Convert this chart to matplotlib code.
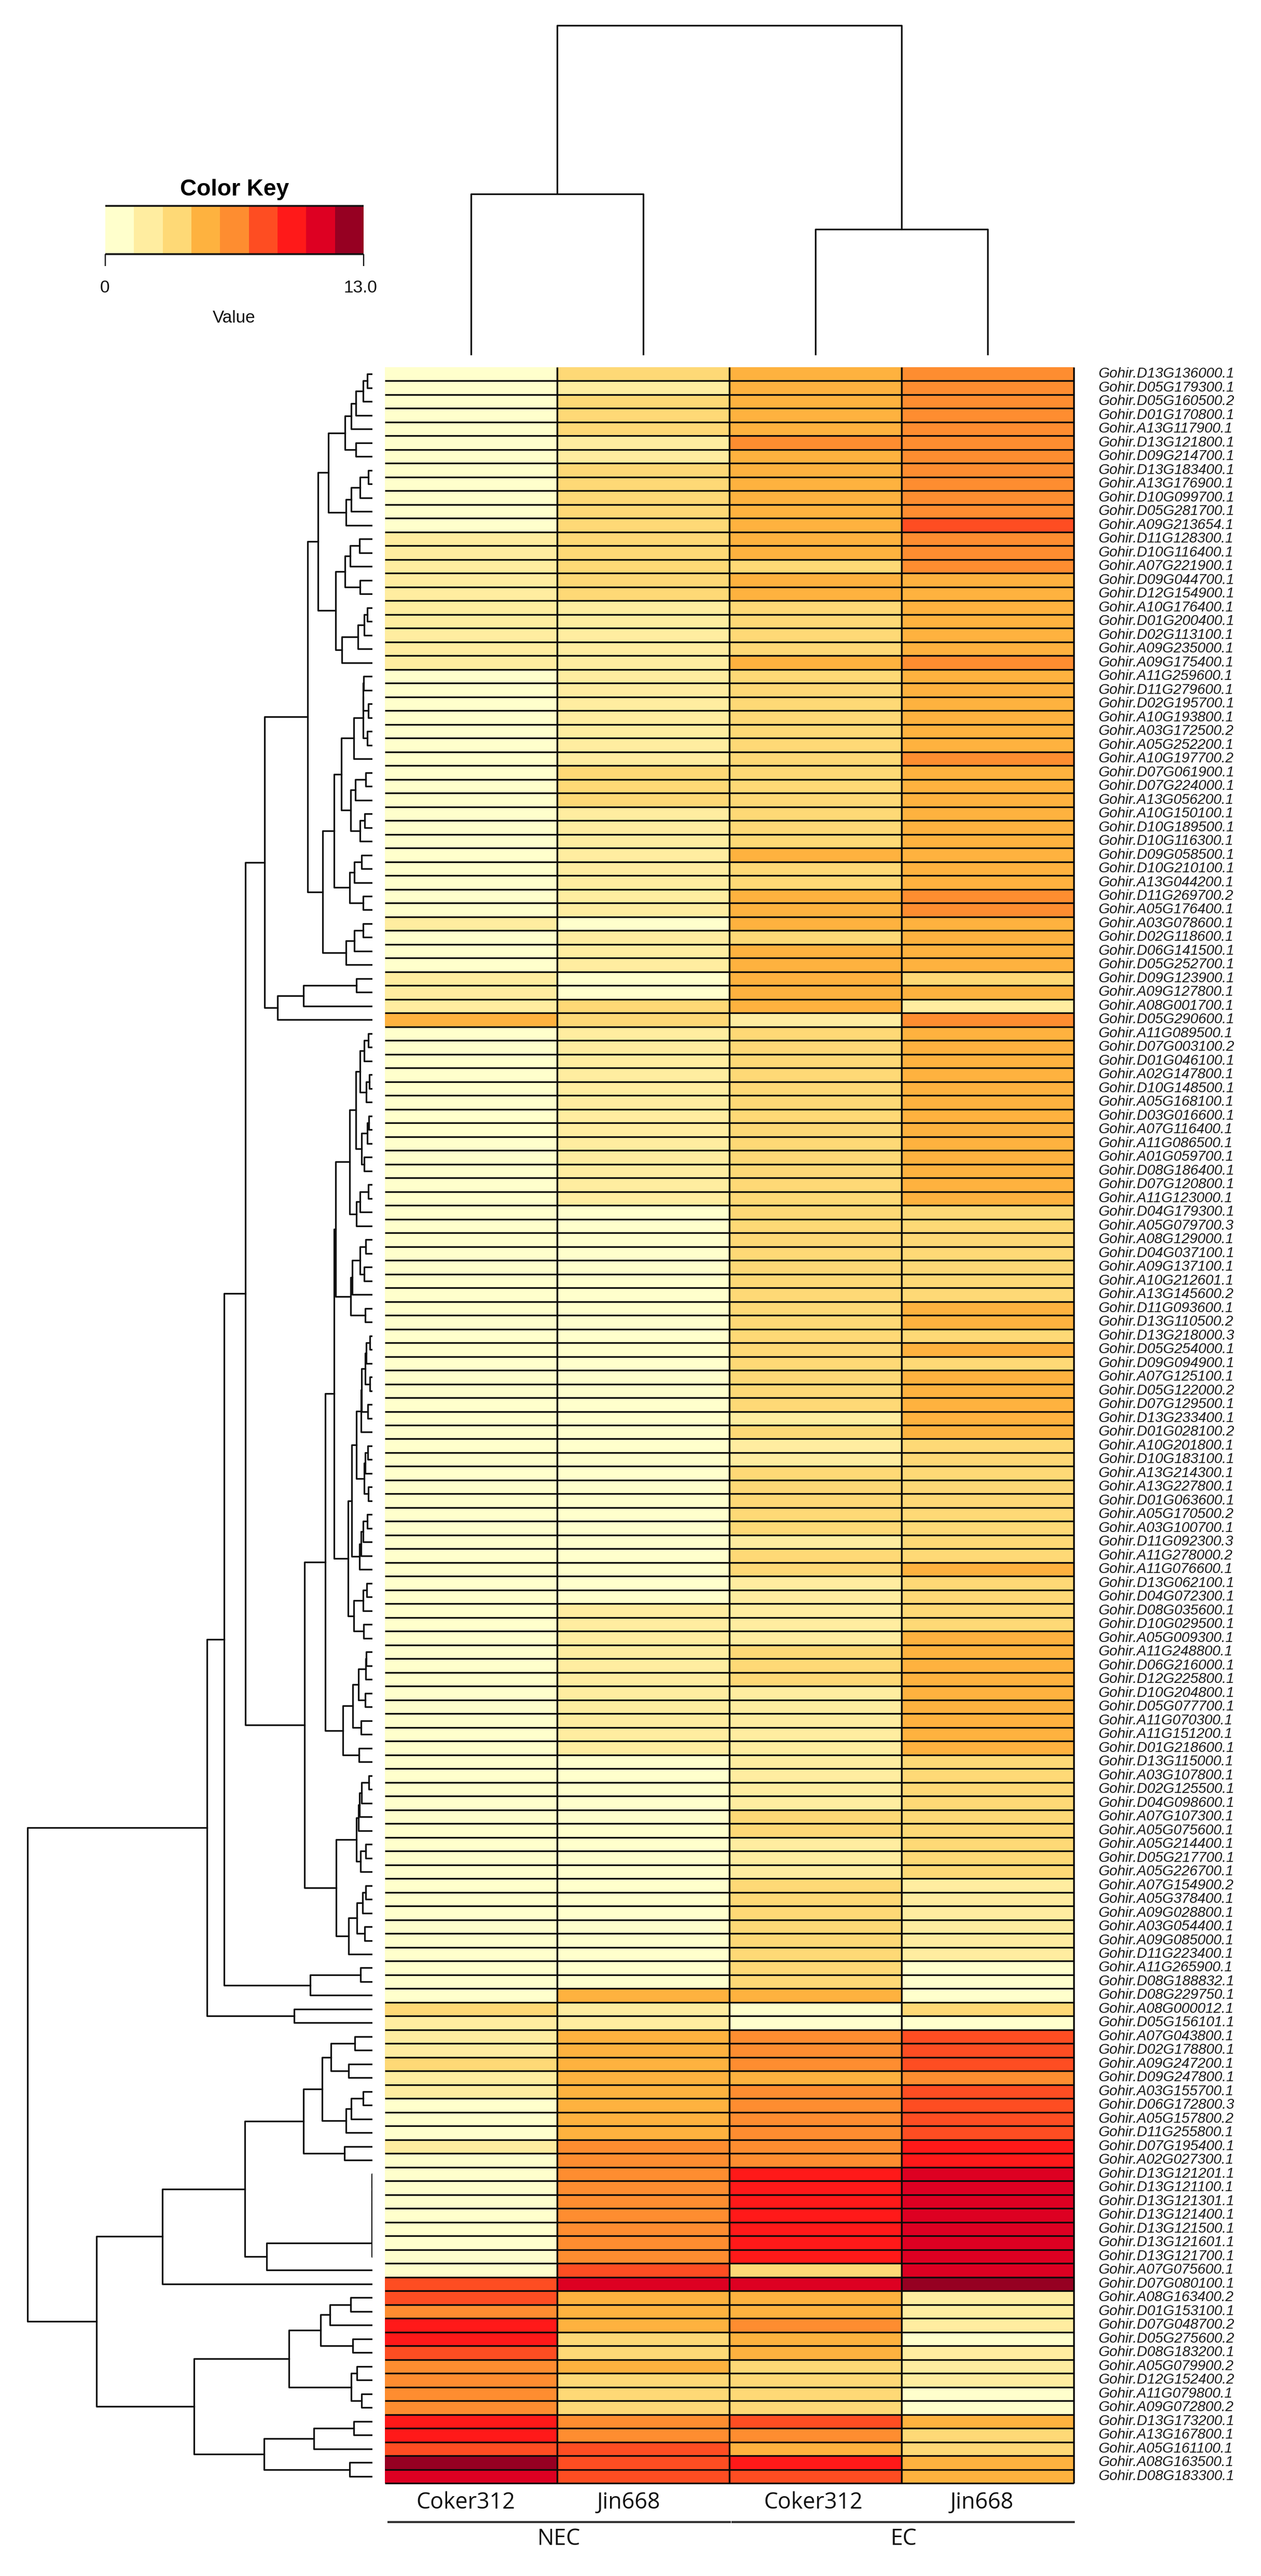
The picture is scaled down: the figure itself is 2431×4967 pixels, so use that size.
import numpy as np
import matplotlib
matplotlib.use("Agg")
import matplotlib.pyplot as plt
from matplotlib.collections import LineCollection
from matplotlib.colors import ListedColormap, BoundaryNorm

plt.rcParams['font.family'] = ['Liberation Sans', 'DejaVu Sans']

# ---------- data ----------
gene_ids = """D13G136000.1 D05G179300.1 D05G160500.2 D01G170800.1 A13G117900.1 D13G121800.1 D09G214700.1 D13G183400.1
A13G176900.1 D10G099700.1 D05G281700.1 A09G213654.1 D11G128300.1 D10G116400.1 A07G221900.1 D09G044700.1
D12G154900.1 A10G176400.1 D01G200400.1 D02G113100.1 A09G235000.1 A09G175400.1 A11G259600.1 D11G279600.1
D02G195700.1 A10G193800.1 A03G172500.2 A05G252200.1 A10G197700.2 D07G061900.1 D07G224000.1 A13G056200.1
A10G150100.1 D10G189500.1 D10G116300.1 D09G058500.1 D10G210100.1 A13G044200.1 D11G269700.2 A05G176400.1
A03G078600.1 D02G118600.1 D06G141500.1 D05G252700.1 D09G123900.1 A09G127800.1 A08G001700.1 D05G290600.1
A11G089500.1 D07G003100.2 D01G046100.1 A02G147800.1 D10G148500.1 A05G168100.1 D03G016600.1 A07G116400.1
A11G086500.1 A01G059700.1 D08G186400.1 D07G120800.1 A11G123000.1 D04G179300.1 A05G079700.3 A08G129000.1
D04G037100.1 A09G137100.1 A10G212601.1 A13G145600.2 D11G093600.1 D13G110500.2 D13G218000.3 D05G254000.1
D09G094900.1 A07G125100.1 D05G122000.2 D07G129500.1 D13G233400.1 D01G028100.2 A10G201800.1 D10G183100.1
A13G214300.1 A13G227800.1 D01G063600.1 A05G170500.2 A03G100700.1 D11G092300.3 A11G278000.2 A11G076600.1
D13G062100.1 D04G072300.1 D08G035600.1 D10G029500.1 A05G009300.1 A11G248800.1 D06G216000.1 D12G225800.1
D10G204800.1 D05G077700.1 A11G070300.1 A11G151200.1 D01G218600.1 D13G115000.1 A03G107800.1 D02G125500.1
D04G098600.1 A07G107300.1 A05G075600.1 A05G214400.1 D05G217700.1 A05G226700.1 A07G154900.2 A05G378400.1
A09G028800.1 A03G054400.1 A09G085000.1 D11G223400.1 A11G265900.1 D08G188832.1 D08G229750.1 A08G000012.1
D05G156101.1 A07G043800.1 D02G178800.1 A09G247200.1 D09G247800.1 A03G155700.1 D06G172800.3 A05G157800.2
D11G255800.1 D07G195400.1 A02G027300.1 D13G121201.1 D13G121100.1 D13G121301.1 D13G121400.1 D13G121500.1
D13G121601.1 D13G121700.1 A07G075600.1 D07G080100.1 A08G163400.2 D01G153100.1 D07G048700.2 D05G275600.2
D08G183200.1 A05G079900.2 D12G152400.2 A11G079800.1 A09G072800.2 D13G173200.1 A13G167800.1 A05G161100.1
A08G163500.1 D08G183300.1""".split()
row_labels = ["Gohir." + g for g in gene_ids]

col_labels = ["Coker312", "Jin668", "Coker312", "Jin668"]
group_labels = ["NEC", "EC"]

# colour bin (0-8) of each row
nec_coker = [0,0,0,0,0,0,0,0,0,0,0,0,1,1,1,1,1,1,1,1,1,1,0,0,0,0,0,0,0,0,0,0,0,0,0,0,0,0,0,0,
             1,0,0,0,1,1,1,3,0,0,0,0,0,0,0,0,0,0,0,0,0,0,0,0,0,0,0,0,0,0,0,0,0,0,0,0,0,0,0,0,
             0,0,0,0,0,0,0,0,0,0,0,0,0,0,0,0,0,0,0,0,0,0,0,0,0,0,0,0,0,0,0,0,0,0,0,0,0,0,0,2,
             1,1,1,2,1,1,0,0,0,1,0,0,0,0,0,0,0,0,0,5,5,4,6,6,5,4,4,4,4,6,6,5,8,7]
nec_jin = [2,1,2,2,2,1,1,2,2,2,2,2,2,2,2,2,2,1,1,1,1,1,1,1,1,1,1,1,1,2,2,2,1,1,1,1,1,1,1,1,
           0,1,1,1,0,0,2,2,1,1,1,1,1,1,1,1,1,1,1,1,1,0,0,0,0,0,0,0,0,0,0,0,0,0,0,0,0,0,0,0,
           0,0,0,0,0,0,0,0,0,0,1,1,1,1,1,1,1,1,1,1,1,0,0,0,0,0,0,0,0,0,0,0,0,0,0,0,0,0,3,1,
           1,3,3,3,3,3,3,3,3,4,4,4,4,4,4,4,4,4,5,7,3,3,3,2,2,3,2,2,2,4,4,5,5,5]
ec_coker = [3,3,3,3,3,4,3,3,3,3,3,3,3,3,2,3,3,2,2,2,2,3,2,2,2,2,2,2,2,2,2,2,2,2,2,3,2,2,3,3,
            3,2,3,3,3,3,3,1,2,2,2,2,2,2,2,2,2,2,2,2,2,2,2,2,2,2,2,2,2,2,2,2,2,2,2,2,1,2,1,1,
            2,2,2,2,2,1,2,2,1,1,1,1,1,2,2,2,1,1,1,1,1,1,1,1,1,2,2,1,1,1,2,2,2,2,2,2,2,2,3,0,
            0,4,4,4,3,4,4,4,4,4,4,6,6,6,6,6,6,6,2,7,3,3,4,3,3,2,2,2,2,5,4,3,6,5]
ec_jin = [4,4,4,4,4,4,4,4,4,4,4,5,4,4,4,3,3,3,3,3,3,4,3,3,3,3,3,3,4,3,3,3,3,3,3,3,3,3,4,4,
          3,3,3,3,2,3,1,4,3,3,3,3,3,3,3,3,3,3,3,3,3,2,2,2,2,2,2,2,3,3,2,3,2,3,3,3,3,3,2,2,
          2,2,2,2,2,2,2,3,2,2,2,2,3,3,3,3,3,3,3,3,3,2,2,2,2,2,2,2,2,2,1,1,1,1,1,1,0,0,0,2,
          0,5,5,5,4,5,5,5,5,6,6,7,7,7,7,7,7,7,7,8,1,1,1,0,1,1,1,0,0,3,2,2,3,3]

bin_colors = ['#FFFFCC', '#FFEDA0', '#FED976', '#FEB23F', '#FE8D30', '#FE4D22', '#FF1919', '#DD0022', '#960022']
key_range = [0, 13.0]

# row dendrogram: (merge height, upper child, lower child); L is a leaf
L = 0
a1 = (52.6, (40.8, (32.1, (17.9, (10.2, L, L), L), L), L), (32.1, L, L))
a2 = (51.0, (40.8, (24.5, (8.2, L, L), L), L), L)
a3 = (52.6, (43.4, (25.5, L, L), L), (24.5, L, L))
a4 = (59.2, (27.6, (16.3, (10.2, L, L), L), L), L)
A = (104.6, (84.7, a1, a2), (71.4, a3, a4))
b1 = (35.7, (18.4, (18.0, (16.8, L, L), (8.2, L, L)), (10.2, L, L)), L)
b2 = (41.8, (32.7, (13.3, L, L), L), (24.5, (15.3, L, L), L))
b4 = (43.9, (34.7, (20.9, L, L), L), (18.4, L, L))
b6 = (51.0, (34.7, (18.4, L, L), L), L)
B = (95.9, (74.0, (60.2, b1, b2), b4), b6)
outl = (182.7, (132.7, (31.1, L, L), L), L)
top1 = (208.0, (125.5, A, B), outl)
c1 = (24.5, (16.3, (8.2, L, L), L), (11.7, (5.6, L, L), L))
c2 = (21.4, (10.2, (6.6, L, L), L), (16.3, L, L))
c3 = (30.6, (24.5, (8.2, L, L), L), L)
c4 = (41.8, (38.8, (24.5, (13.3, L, L), (15.8, L, L)), L), (14.3, L, L))
c5 = (21.9, (21.4, (14.3, (11.7, (5.1, L, L), L), (5.1, L, L)), (9.2, L, L)), L)
c6 = (16.3, (14.3, (9.2, L, L), L), (8.2, L, L))
c7 = (25.5, (21.9, (18.4, (10.2, L, L), L), L), L)
c8 = (35.7, (18.4, (10.7, L, L), L), (16.8, L, L))
c10 = (57.1, (38.3, (27.0, (13.3, (11.7, L, L), L), (14.3, L, L)), (21.9, L, L)), (26.5, L, L))
c9 = (74.0, (71.4, (43.9, (32.1, c1, c2), c3), c4), (47.4, (39.8, (30.6, c5, c6), c7), c8))
C = (90.8, c9, c10)
d1 = (30.6, (27.0, (25.5, (20.9, (6.6, L, L), L), L), L), (23.0, (13.3, L, L), L))
d2 = (45.9, (29.6, (19.4, (13.3, L, L), L), (15.3, L, L)), L)
D = (70.4, d1, d2)
E = (120.4, (23.5, L, L), L)
F = (151.0, L, L)
upper = (319.4, (285.7, (244.9, top1, (130.6, C, D)), E), F)
g1 = (79.6, (33.7, L, L), (46.4, L, L))
g2 = (51.5, (41.3, (18.4, L, L), L), L)
g3 = (133.2, (97.4, g1, g2), (54.0, L, L))
g4 = (204.1, (1.5, (1.4, (1.3, (1.2, (1.1, (1.0, L, L), L), L), L), L), L), L)
lower1 = (404.6, (246.4, g3, g4), L)
h_ = (160.7, (100.0, (82.1, (42.3, L, L), L), (38.3, L, L)), (40.8, (29.6, L, L), (21.4, L, L)))
i_ = (209.2, (112.8, (36.2, L, L), L), (43.9, L, L))
row_tree = (664.8, upper, (532.1, lower1, (344.4, h_, i_)))

# column dendrogram
col_tree = (636.0, (311.0, L, L), (243.0, L, L))

# ---------- layout ----------
W, H = 2431, 4967
fig = plt.figure(figsize=(W / 100, H / 100), dpi=100)
PX = 72 / 100  # points per pixel


def axes_px(x0, y0, x1, y1):
    ax = fig.add_axes([x0 / W, 1 - y1 / H, (x1 - x0) / W, (y1 - y0) / H])
    ax.axis('off')
    return ax


def text_px(x, y, s, **kw):
    fig.text(x / W, 1 - y / H, s, ha='center', va='center', **kw)


def walk(node, counter, segs):
    """Returns (height, position) of a node and collects its bracket."""
    if node == L:
        pos = counter[0] + 0.5
        counter[0] += 1
        return 0.0, pos
    h, a, b = node
    ha, pa = walk(a, counter, segs)
    hb, pb = walk(b, counter, segs)
    segs.append([(ha, pa), (h, pa), (h, pb), (hb, pb)])
    return h, (pa + pb) / 2


# heatmap
values = (np.array([nec_coker, nec_jin, ec_coker, ec_jin]).T + 0.5) * key_range[1] / 9
edges = np.linspace(key_range[0], key_range[1], 10)
cmap = ListedColormap(bin_colors)
norm = BoundaryNorm(edges, cmap.N)
n_rows = values.shape[0]

ax = axes_px(742, 708, 2070, 4788)
ax.pcolormesh(np.arange(5), np.arange(n_rows + 1), values, cmap=cmap, norm=norm, antialiased=False)
ax.set_xlim(0, 4)
ax.set_ylim(n_rows, 0)
ax.hlines(np.arange(1, n_rows + 1), 0, 4, color='#0a0a0a', lw=3.2 * PX, clip_on=False)
ax.vlines(np.arange(1, 5), 0, n_rows, color='#0a0a0a', lw=3.4 * PX, clip_on=False)
for i, lab in enumerate(row_labels):
    fig.text(2118 / W, 1 - (708 + (i + 0.5) * 4080 / n_rows) / H, lab, ha='left', va='center',
             style='italic', fontsize=20, color='#1a1a1a')

# row dendrogram
ax_r = axes_px(0, 708, 718, 4788)
segs = []
walk(row_tree, [0], segs)
ax_r.add_collection(LineCollection(segs, colors='#111111', linewidths=3.2 * PX, capstyle='projecting'))
ax_r.set_xlim(718, 0)
ax_r.set_ylim(n_rows, 0)

# column dendrogram
ax_c = axes_px(742, 0, 2070, 685)
segs = []
walk(col_tree, [0], segs)
segs = [[(p, h) for h, p in s] for s in segs]
ax_c.add_collection(LineCollection(segs, colors='#111111', linewidths=3.2 * PX))
ax_c.set_xlim(0, 4)
ax_c.set_ylim(0, 685)

# colour key
ax_k = axes_px(203, 397, 701, 490)
xs = np.linspace(key_range[0], key_range[1], 10)
ax_k.pcolormesh(xs, [0, 1], ((xs[:-1] + xs[1:]) / 2)[None, :], cmap=cmap, norm=norm, antialiased=False)
ax_k.set_xlim(*key_range)
ax_k.set_ylim(0, 1)
ax_k.hlines([0, 1], *key_range, color='#111111', lw=3.5 * PX, clip_on=False)
ax_k.vlines(key_range, -0.25, 0, color='#111111', lw=2.4 * PX, clip_on=False)
text_px(452, 365, "Color Key", fontsize=32, fontweight='bold', color='black')
text_px(202, 556, "0", fontsize=24, color='#111111')
text_px(695, 556, "13.0", fontsize=24, color='#111111')
text_px(451, 614, "Value", fontsize=24, color='#111111')

# column and group labels
for x, lab in zip([898, 1212, 1568, 1893], col_labels):
    text_px(x, 4826, lab, fontsize=31, family='Open Sans', color='#111111')
for x, lab in zip([1077, 1742], group_labels):
    text_px(x, 4896, lab, fontsize=31, family='Open Sans', color='#111111')
for x0, x1 in [(749, 1407), (1412, 2070)]:
    fig.add_artist(plt.Line2D([x0 / W, x1 / W], [1 - 4863 / H] * 2, color='#333333', lw=4 * PX))

fig.savefig('out.png', dpi=100)
